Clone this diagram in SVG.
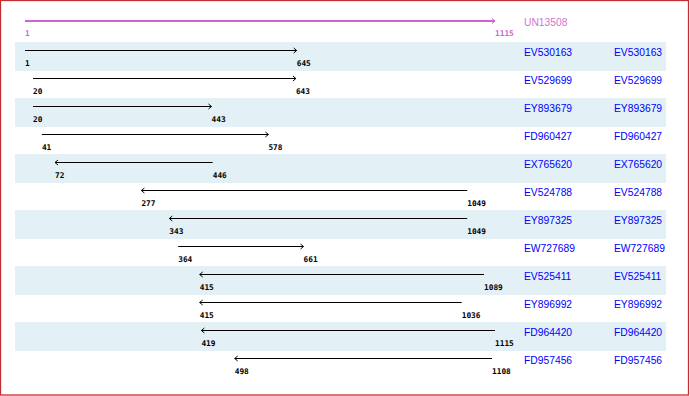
<svg xmlns="http://www.w3.org/2000/svg" width="690" height="396" viewBox="0 0 690 396">
<defs>
<style>
.band{fill:#e3f0f5}
.ln{stroke:#000;stroke-width:1;fill:none}
.num{font-family:"DejaVu Sans Mono","Liberation Mono",monospace;font-size:7.8px;font-weight:bold;fill:#000}
.acc{font-family:"Liberation Sans",Arial,sans-serif;font-size:10.3px;fill:#0000ff}
.top{stroke:#cc66cc;stroke-width:2;fill:none}
.topnum{font-family:"DejaVu Sans Mono","Liberation Mono",monospace;font-size:7.8px;font-weight:bold;fill:#cc66cc}
.toplab{font-family:"Liberation Sans",Arial,sans-serif;font-size:10.3px;fill:#cc77cc}
</style>
<marker id="ar" viewBox="-4 -4 5 8" markerWidth="5" markerHeight="8" refX="0" refY="0" orient="auto" markerUnits="userSpaceOnUse">
<path d="M-3,-2.5 L0,0 L-3,2.5" stroke="#000" stroke-width="1" fill="none"/>
</marker>
<marker id="art" viewBox="-4 -4 5 8" markerWidth="5" markerHeight="8" refX="0" refY="0" orient="auto" markerUnits="userSpaceOnUse">
<path d="M-3,-2.5 L0,0 L-3,2.5" stroke="#cc66cc" stroke-width="1" fill="none"/>
</marker>
</defs>
<rect x="0" y="0" width="690" height="396" fill="#fff"/>
<rect x="0.5" y="0.5" width="688" height="394.5" fill="none" stroke="#c03030" stroke-width="1.3"/>
<g id="bands">
<rect class="band" x="15" y="42" width="651" height="29"/>
<rect class="band" x="15" y="98" width="651" height="29"/>
<rect class="band" x="15" y="154" width="651" height="29"/>
<rect class="band" x="15" y="210" width="651" height="29"/>
<rect class="band" x="15" y="266" width="651" height="29"/>
<rect class="band" x="15" y="322" width="651" height="29"/>
</g>
<g id="query">
<line class="top" x1="25" y1="21" x2="495" y2="21" marker-end="url(#art)"/>
<text class="topnum" x="25" y="36">1</text>
<text class="topnum" x="495" y="36">1115</text>
<text class="toplab" x="524" y="26">UN13508</text>
</g>
<g id="connectors">
<line class="ln" x1="25" y1="50.5" x2="296.7" y2="50.5" marker-end="url(#ar)"/>
<line class="ln" x1="33" y1="78.5" x2="295.9" y2="78.5" marker-end="url(#ar)"/>
<line class="ln" x1="33" y1="106.5" x2="211.5" y2="106.5" marker-end="url(#ar)"/>
<line class="ln" x1="41.9" y1="134.5" x2="268.4" y2="134.5" marker-end="url(#ar)"/>
<line class="ln" x1="212.7" y1="162.5" x2="55" y2="162.5" marker-end="url(#ar)"/>
<line class="ln" x1="467.2" y1="190.5" x2="141.4" y2="190.5" marker-end="url(#ar)"/>
<line class="ln" x1="467.2" y1="218.5" x2="169.3" y2="218.5" marker-end="url(#ar)"/>
<line class="ln" x1="178.2" y1="246.5" x2="303.5" y2="246.5" marker-end="url(#ar)"/>
<line class="ln" x1="484" y1="274.5" x2="199.7" y2="274.5" marker-end="url(#ar)"/>
<line class="ln" x1="461.7" y1="302.5" x2="199.7" y2="302.5" marker-end="url(#ar)"/>
<line class="ln" x1="495" y1="330.5" x2="201.4" y2="330.5" marker-end="url(#ar)"/>
<line class="ln" x1="492" y1="358.5" x2="234.7" y2="358.5" marker-end="url(#ar)"/>
</g>
<g id="EV530163"><text class="num" x="25" y="66">1</text><text class="num" x="296.7" y="66">645</text><text class="acc" x="524" y="56">EV530163</text><text class="acc" x="614" y="56">EV530163</text></g>
<g id="EV529699"><text class="num" x="33" y="94">20</text><text class="num" x="295.9" y="94">643</text><text class="acc" x="524" y="84">EV529699</text><text class="acc" x="614" y="84">EV529699</text></g>
<g id="EY893679"><text class="num" x="33" y="122">20</text><text class="num" x="211.5" y="122">443</text><text class="acc" x="524" y="112">EY893679</text><text class="acc" x="614" y="112">EY893679</text></g>
<g id="FD960427"><text class="num" x="41.9" y="150">41</text><text class="num" x="268.4" y="150">578</text><text class="acc" x="524" y="140">FD960427</text><text class="acc" x="614" y="140">FD960427</text></g>
<g id="EX765620"><text class="num" x="55" y="178">72</text><text class="num" x="212.7" y="178">446</text><text class="acc" x="524" y="168">EX765620</text><text class="acc" x="614" y="168">EX765620</text></g>
<g id="EV524788"><text class="num" x="141.4" y="206">277</text><text class="num" x="467.2" y="206">1049</text><text class="acc" x="524" y="196">EV524788</text><text class="acc" x="614" y="196">EV524788</text></g>
<g id="EY897325"><text class="num" x="169.3" y="234">343</text><text class="num" x="467.2" y="234">1049</text><text class="acc" x="524" y="224">EY897325</text><text class="acc" x="614" y="224">EY897325</text></g>
<g id="EW727689"><text class="num" x="178.2" y="262">364</text><text class="num" x="303.5" y="262">661</text><text class="acc" x="524" y="252">EW727689</text><text class="acc" x="614" y="252">EW727689</text></g>
<g id="EV525411"><text class="num" x="199.7" y="290">415</text><text class="num" x="484" y="290">1089</text><text class="acc" x="524" y="280">EV525411</text><text class="acc" x="614" y="280">EV525411</text></g>
<g id="EY896992"><text class="num" x="199.7" y="318">415</text><text class="num" x="461.7" y="318">1036</text><text class="acc" x="524" y="308">EY896992</text><text class="acc" x="614" y="308">EY896992</text></g>
<g id="FD964420"><text class="num" x="201.4" y="346">419</text><text class="num" x="495" y="346">1115</text><text class="acc" x="524" y="336">FD964420</text><text class="acc" x="614" y="336">FD964420</text></g>
<g id="FD957456"><text class="num" x="234.7" y="374">498</text><text class="num" x="492" y="374">1108</text><text class="acc" x="524" y="364">FD957456</text><text class="acc" x="614" y="364">FD957456</text></g>
</svg>
